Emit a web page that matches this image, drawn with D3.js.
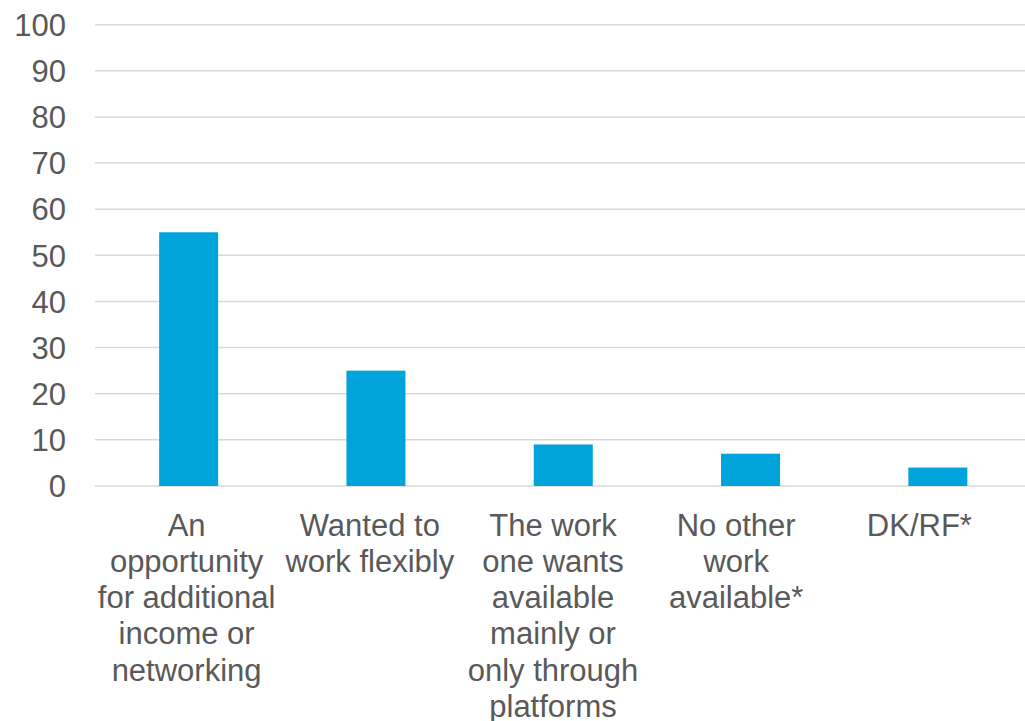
<!DOCTYPE html>
<html>
<head>
<meta charset="utf-8">
<script src="https://cdn.jsdelivr.net/npm/d3@7"></script>
<style>
  body { margin: 0; background: #fff; }
  svg { display: block; }
  .tick-label, .cat-label { font-family: 'Liberation Sans', Arial, sans-serif; fill: #595959; }
</style>
</head>
<body>
<div id="chart"></div>
<script>
// data
var categories = ['opportunity', 'flexibly', 'platforms', 'noother', 'dkrf']
var categoryLines = [
  ['An', 'opportunity', 'for additional', 'income or', 'networking'],
  ['Wanted to', 'work flexibly'],
  ['The work', 'one wants', 'available', 'mainly or', 'only through', 'platforms'],
  ['No other', 'work', 'available*'],
  ['DK/RF*']
]
var values = [55, 25, 9, 7, 4]
var yTicks = [0, 10, 20, 30, 40, 50, 60, 70, 80, 90, 100]

var width = 1025
var height = 721
var margin = { left: 95, top: 24.7 }
var baseY = 486
var lineGap = 36.3
var firstBaseline = 535.5

var svg = d3.select('#chart')
  .append('svg')
  .attr('width', width)
  .attr('height', height)

var x = d3.scaleBand()
  .domain(categories)
  .range([margin.left, margin.left + 5 * 187.3])
  .paddingInner(0.685)
  .paddingOuter(0.3425)

// labels sit a bit tighter than the bars
var xLabel = d3.scaleBand()
  .domain(categories)
  .range([margin.left, 1011])

var y = d3.scaleLinear()
  .domain([0, 100])
  .range([baseY, margin.top])

// gridlines
svg.append('g')
  .selectAll('line')
  .data(yTicks)
  .enter()
  .append('line')
  .attr('x1', margin.left)
  .attr('x2', width)
  .attr('y1', d => y(d))
  .attr('y2', d => y(d))
  .attr('stroke', '#d9d9d9')
  .attr('stroke-width', 1.5)

// y tick labels
svg.append('g')
  .selectAll('text')
  .data(yTicks)
  .enter()
  .append('text')
  .attr('class', 'tick-label')
  .attr('x', 66)
  .attr('y', d => y(d))
  .attr('dy', '0.36em')
  .attr('text-anchor', 'end')
  .attr('font-size', '31px')
  .text(d => d)

// bars
svg.append('g')
  .selectAll('rect')
  .data(values)
  .enter()
  .append('rect')
  .attr('x', (d, i) => x(categories[i]))
  .attr('y', d => y(d))
  .attr('width', x.bandwidth())
  .attr('height', d => y(0) - y(d))
  .attr('fill', '#00A3DA')

// category labels
var labels = svg.append('g')
  .selectAll('text')
  .data(categoryLines)
  .enter()
  .append('text')
  .attr('class', 'cat-label')
  .attr('text-anchor', 'middle')
  .attr('font-size', '31px')
  .attr('x', (d, i) => xLabel(categories[i]) + xLabel.bandwidth() / 2)
  .attr('y', firstBaseline)

labels.selectAll('tspan')
  .data(d => d)
  .enter()
  .append('tspan')
  .attr('x', function () { return d3.select(this.parentNode).attr('x') })
  .attr('y', (d, j) => firstBaseline + j * lineGap)
  .text(d => d)
</script>
</body>
</html>
